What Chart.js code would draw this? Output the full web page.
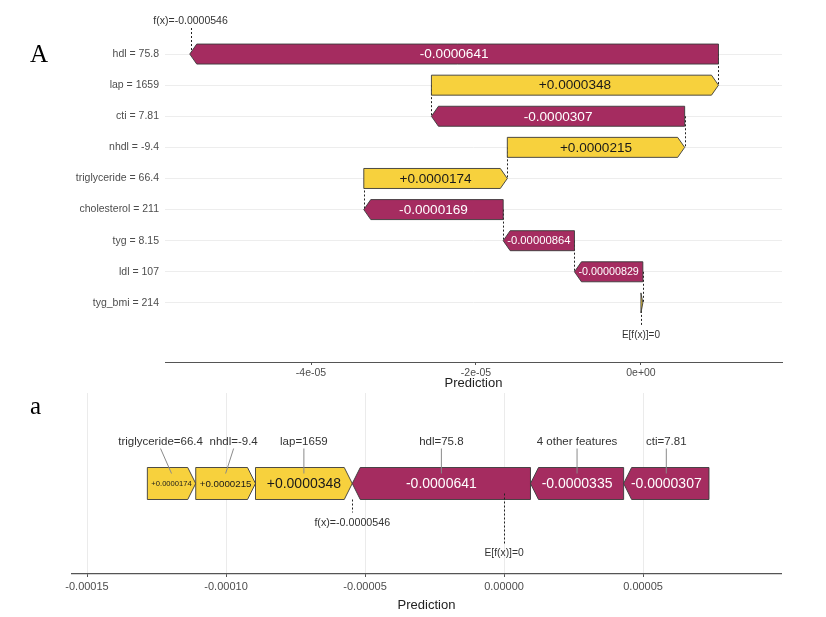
<!DOCTYPE html>
<html><head><meta charset="utf-8">
<script src="https://cdn.jsdelivr.net/npm/chart.js@4.4.1/dist/chart.umd.min.js"></script>
<style>
html,body{margin:0;padding:0;background:#fff;width:826px;height:617px;overflow:hidden;}
#w1{position:absolute;left:0;top:0;width:826px;height:392px;}
#w2{position:absolute;left:0;top:392px;width:826px;height:225px;}
.lab{position:absolute;font-family:"Liberation Serif","DejaVu Serif",serif;color:#000;line-height:1;}
</style></head><body>
<div id="w1"><canvas id="c1"></canvas></div>
<div id="w2"><canvas id="c2"></canvas></div>
<div class="lab" style="left:30px;top:41px;font-size:25px;">A</div>
<div class="lab" style="left:30px;top:393px;font-size:25px;">a</div>
<script>
// ---------- data ----------
const waterfallFeatures = ['hdl = 75.8','lap = 1659','cti = 7.81','nhdl = -9.4','triglyceride = 66.4','cholesterol = 211','tyg = 8.15','ldl = 107','tyg_bmi = 214'];
const waterfallShap = [-0.0000641, 0.0000348, -0.0000307, 0.0000215, 0.0000174, -0.0000169, -0.00000864, -0.00000829, 0.00000023];
const waterfallText = ['-0.0000641','+0.0000348','-0.0000307','+0.0000215','+0.0000174','-0.0000169','-0.00000864','-0.00000829',''];
const waterfallTicks = [-0.00004, -0.00002, 0];

const forceFeatures = ['triglyceride=66.4','nhdl=-9.4','lap=1659','hdl=75.8','4 other features','cti=7.81'];
const forceShap = [0.0000174, 0.0000215, 0.0000348, -0.0000641, -0.0000335, -0.0000307];
const forceText = ['+0.0000174','+0.0000215','+0.0000348','-0.0000641','-0.0000335','-0.0000307'];
const forceTicks = [-0.00015, -0.0001, -0.00005, 0, 0.00005];

const baseValue = 0;            // E[f(x)]
const prediction = -0.0000546;  // f(x)
const baseText = 'E[f(x)]=0';
const predText = 'f(x)=-0.0000546';

// ---------- derived bar extents ----------
const wfBars = new Array(waterfallShap.length);
{
  let cum = baseValue;
  for (let i = waterfallShap.length - 1; i >= 0; i--) {
    wfBars[i] = {s: cum, e: cum + waterfallShap[i]};
    cum += waterfallShap[i];
  }
}
const fcBars = new Array(forceShap.length);
{
  let cum = prediction;
  for (let i = forceShap.length - 1; i >= 0; i--) {
    if (forceShap[i] > 0) { fcBars[i] = {s: cum - forceShap[i], e: cum}; cum -= forceShap[i]; }
  }
  cum = prediction;
  for (let i = 0; i < forceShap.length; i++) {
    if (forceShap[i] < 0) { fcBars[i] = {s: cum - forceShap[i], e: cum}; cum -= forceShap[i]; }
  }
}

// ---------- style ----------
const FONT = '"Liberation Sans", Arial, sans-serif';
const POS = '#f7d13d', NEG = '#a52c60';
const TXT = '#333333';

function fmtExp(v) {
  if (Math.abs(v) < 1e-12) return '0e+00';
  return v.toExponential(0).replace(/e([+-])(\d)$/, 'e$10$2');
}
function arrowPath(ctx, xs, xe, yc, h, tip) {
  const dir = xe >= xs ? 1 : -1;
  const d = Math.min(tip, Math.abs(xe - xs));
  const t = yc - h / 2, b = yc + h / 2;
  ctx.beginPath();
  ctx.moveTo(xs, t);
  ctx.lineTo(xe - dir * d, t);
  ctx.lineTo(xe, yc);
  ctx.lineTo(xe - dir * d, b);
  ctx.lineTo(xs, b);
  ctx.closePath();
}
function dotted(ctx, x, y1, y2) {
  ctx.save();
  ctx.strokeStyle = '#222';
  ctx.lineWidth = 1;
  ctx.setLineDash([2, 2]);
  ctx.beginPath();
  ctx.moveTo(Math.round(x) + 0.5, y1);
  ctx.lineTo(Math.round(x) + 0.5, y2);
  ctx.stroke();
  ctx.restore();
}
function fitText(ctx, text, x, y, width, maxSize, color) {
  if (!text) return;
  ctx.save();
  ctx.font = '100px ' + FONT;
  const w100 = ctx.measureText(text).width;
  const size = Math.min(maxSize, (width - 8) / w100 * 100);
  ctx.font = size + 'px ' + FONT;
  ctx.fillStyle = color;
  ctx.textAlign = 'center';
  ctx.textBaseline = 'middle';
  ctx.fillText(text, x, y + 0.5);
  ctx.restore();
}
function label(ctx, text, x, y, size) {
  ctx.save();
  ctx.font = size + 'px ' + FONT;
  ctx.fillStyle = TXT;
  ctx.textAlign = 'center';
  ctx.textBaseline = 'middle';
  ctx.fillText(text, x, y);
  ctx.restore();
}

// ---------- waterfall plugin ----------
const wfPlugin = {
  id: 'wf',
  beforeDatasetsDraw(chart) {
    const ctx = chart.ctx, xs = chart.scales.x, ys = chart.scales.y;
    for (let i = 0; i < wfBars.length - 1; i++) {
      dotted(ctx, xs.getPixelForValue(wfBars[i].s), ys.getPixelForValue(i), ys.getPixelForValue(i + 1));
    }
    const last = wfBars.length - 1;
    const xb = xs.getPixelForValue(baseValue);
    dotted(ctx, xb, ys.getPixelForValue(last), ys.getPixelForValue(last + 1) - 8);
    const xp = xs.getPixelForValue(prediction);
    dotted(ctx, xp, 28, ys.getPixelForValue(0));
  },
  afterDatasetsDraw(chart) {
    const ctx = chart.ctx, xs = chart.scales.x, ys = chart.scales.y;
    const meta = chart.getDatasetMeta(0);
    wfBars.forEach((b, i) => {
      const el = meta.data[i];
      const x1 = xs.getPixelForValue(b.s), x2 = xs.getPixelForValue(b.e);
      const h = el.height;
      ctx.save();
      arrowPath(ctx, x1, x2, el.y, h, 7);
      ctx.fillStyle = waterfallShap[i] >= 0 ? POS : NEG;
      ctx.fill();
      ctx.lineWidth = 0.9;
      ctx.strokeStyle = '#3a3a3a';
      ctx.stroke();
      ctx.restore();
      fitText(ctx, waterfallText[i], (x1 + x2) / 2, el.y, Math.abs(x2 - x1), 13.6, waterfallShap[i] >= 0 ? '#1a1a1a' : '#ffffff');
    });
    label(ctx, predText, xs.getPixelForValue(prediction), 21, 10.5);
    label(ctx, baseText, xs.getPixelForValue(baseValue), ys.getPixelForValue(wfBars.length) + 1, 10);
  }
};

new Chart(document.getElementById('c1'), {
  type: 'bar',
  data: { datasets: [{
    data: wfBars.map((b, i) => ({x: [b.s, b.e], y: i})),
    backgroundColor: 'rgba(0,0,0,0)', borderWidth: 0, barThickness: 20
  }]},
  options: {
    indexAxis: 'y', responsive: true, maintainAspectRatio: false, animation: false,
    layout: { padding: { top: 38.5, right: 44, left: 0, bottom: 0 } },
    plugins: { legend: { display: false }, tooltip: { enabled: false } },
    scales: {
      x: {
        type: 'linear', min: -0.0000577, max: 0.0000171,
        afterBuildTicks: s => { s.ticks = waterfallTicks.map(v => ({value: v})); },
        ticks: { callback: v => fmtExp(v), color: '#4d4d4d', font: { size: 10.5, family: FONT }, padding: 2, maxRotation: 0, autoSkip: false },
        grid: { drawOnChartArea: false, drawTicks: true, tickLength: 3, color: '#555' },
        border: { display: true, color: '#555', width: 1 },
        title: { display: true, text: 'Prediction', color: '#222', font: { size: 13, family: FONT }, padding: { top: 0, bottom: 1 } },
        afterFit: s => { s.height = 30; }
      },
      y: {
        type: 'linear', reverse: true, min: -0.5, max: 9.9, offset: false,
        afterBuildTicks: s => { s.ticks = waterfallFeatures.map((_, i) => ({value: i})); },
        ticks: { callback: v => waterfallFeatures[v], color: '#4d4d4d', font: { size: 10.5, family: FONT }, padding: 6, autoSkip: false },
        grid: { color: '#ededed', drawTicks: false, offset: false },
        border: { display: false },
        afterFit: s => { s.width = 165; }
      }
    }
  },
  plugins: [wfPlugin]
});

// ---------- force plugin ----------
const labelNudge = [-11, 8, 0, 0, 0, 0];
const fcPlugin = {
  id: 'fc',
  afterDatasetsDraw(chart) {
    const ctx = chart.ctx, xs = chart.scales.x;
    const meta = chart.getDatasetMeta(0);
    let top = 0, bot = 0;
    fcBars.forEach((b, i) => {
      const el = meta.data[i];
      const x1 = xs.getPixelForValue(b.s), x2 = xs.getPixelForValue(b.e);
      const h = el.height;
      top = el.y - h / 2; bot = el.y + h / 2;
      ctx.save();
      arrowPath(ctx, x1, x2, el.y, h, 8);
      ctx.fillStyle = forceShap[i] >= 0 ? POS : NEG;
      ctx.fill();
      ctx.lineWidth = 0.9;
      ctx.strokeStyle = '#3a3a3a';
      ctx.stroke();
      ctx.restore();
      fitText(ctx, forceText[i], (x1 + x2) / 2, el.y, Math.abs(x2 - x1), 14, forceShap[i] >= 0 ? '#1a1a1a' : '#ffffff');
    });
    fcBars.forEach((b, i) => {
      const xc = (xs.getPixelForValue(b.s) + xs.getPixelForValue(b.e)) / 2;
      const lx = xc + labelNudge[i];
      ctx.save();
      ctx.strokeStyle = '#8a8a8a';
      ctx.lineWidth = 1;
      ctx.beginPath();
      ctx.moveTo(lx, top - 19);
      ctx.lineTo(xc, top + 6);
      ctx.stroke();
      ctx.restore();
      label(ctx, forceFeatures[i], lx, top - 25.5, 11.5);
    });
    const xp = xs.getPixelForValue(prediction);
    dotted(ctx, xp, bot, bot + 13);
    label(ctx, predText, xp, bot + 24, 10.7);
    const xb = xs.getPixelForValue(baseValue);
    dotted(ctx, xb, bot - 6, bot + 44);
    label(ctx, baseText, xb, bot + 54, 10.3);
  }
};

new Chart(document.getElementById('c2'), {
  type: 'bar',
  data: { datasets: [{
    data: fcBars.map(b => ({x: [b.s, b.e], y: 0.5})),
    backgroundColor: 'rgba(0,0,0,0)', borderWidth: 0, barThickness: 32
  }]},
  options: {
    indexAxis: 'y', responsive: true, maintainAspectRatio: false, animation: false,
    layout: { padding: { top: 1, right: 45, left: 72, bottom: 0 } },
    plugins: { legend: { display: false }, tooltip: { enabled: false } },
    scales: {
      x: {
        type: 'linear', min: -0.0001554, max: 0.0000996,
        afterBuildTicks: s => { s.ticks = forceTicks.map(v => ({value: v})); },
        ticks: { callback: v => v.toFixed(5), color: '#4d4d4d', font: { size: 11, family: FONT }, padding: 3, maxRotation: 0, autoSkip: false },
        grid: { color: '#ebebeb', tickColor: '#555', tickLength: 3 },
        border: { display: true, color: '#555', width: 1.2 },
        title: { display: true, text: 'Prediction', color: '#222', font: { size: 13, family: FONT }, padding: { top: 0, bottom: 4 } },
        afterFit: s => { s.height = 43; }
      },
      y: { type: 'linear', display: false, min: 0, max: 1, offset: false }
    }
  },
  plugins: [fcPlugin]
});
</script>
</body></html>
